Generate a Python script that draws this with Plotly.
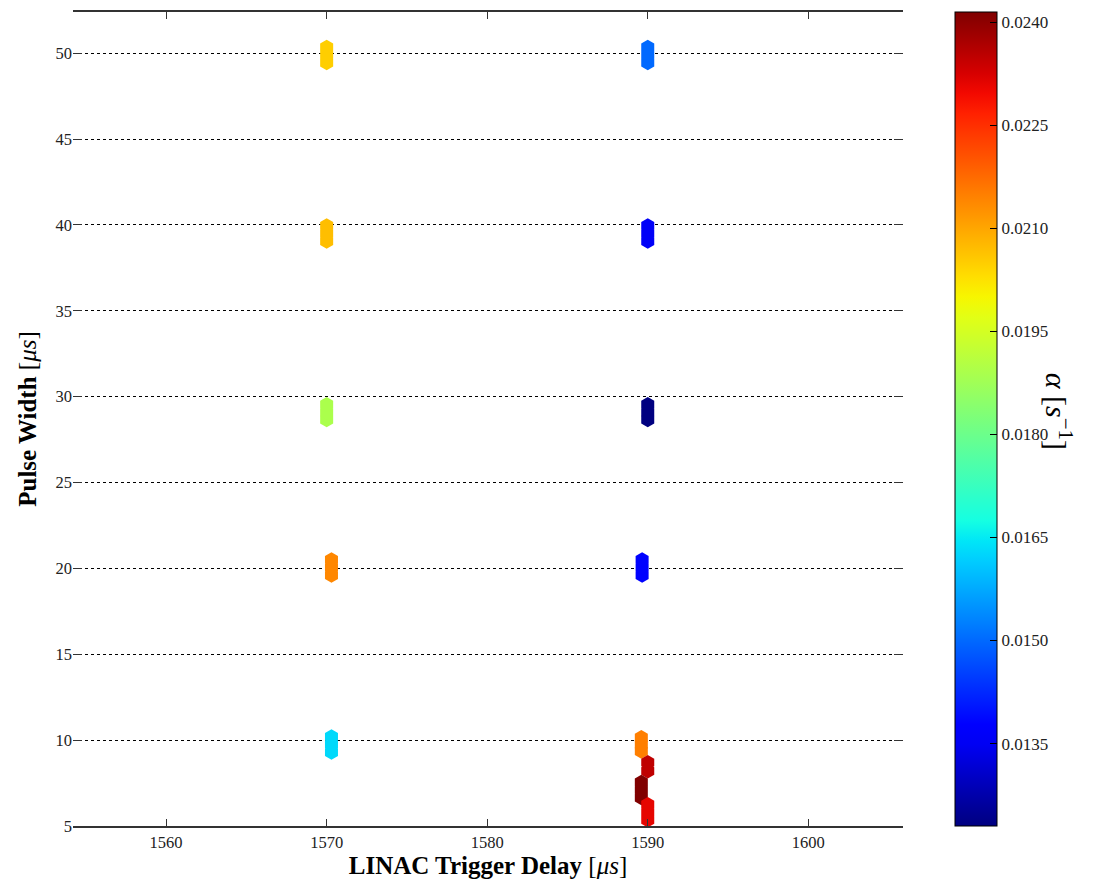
import numpy as np
import plotly.graph_objects as go

delay_us = [
    1570.0, 1570.0, 1570.0,   # ~50 us
    1570.0, 1570.0, 1570.0,   # ~39.5 us
    1570.0, 1570.0, 1570.0,   # ~29 us
    1570.3, 1570.3, 1570.3,   # ~20 us
    1570.3, 1570.3, 1570.3,   # ~10 us
    1590.0, 1590.0, 1590.0,   # ~50 us
    1590.0, 1590.0, 1590.0,   # ~39.5 us
    1590.0, 1590.0, 1590.0,   # ~29 us
    1589.65, 1589.65, 1589.65,  # ~20 us
    1589.6, 1589.6, 1589.6,   # ~10 us
    1590.0, 1590.0,           # ~8.5 us
    1589.6, 1589.6, 1589.6,   # ~7 us
    1590.0, 1590.0, 1590.0,   # ~6 us
]
pulse_width_us = [
    49.45, 49.9, 50.35,
    39.05, 39.5, 39.95,
    28.65, 29.1, 29.55,
    19.6, 20.05, 20.5,
    9.3, 9.75, 10.2,
    49.45, 49.9, 50.35,
    39.05, 39.5, 39.95,
    28.65, 29.1, 29.55,
    19.6, 20.05, 20.5,
    9.35, 9.75, 10.15,
    8.2, 8.7,
    6.65, 7.1, 7.55,
    5.35, 5.8, 6.25,
]
alpha_per_s = [
    0.0205, 0.0205, 0.0205,
    0.0207, 0.0207, 0.0207,
    0.0189, 0.0189, 0.0189,
    0.0214, 0.0214, 0.0214,
    0.0163, 0.0163, 0.0163,
    0.0150, 0.0150, 0.0150,
    0.0136, 0.0136, 0.0136,
    0.0123, 0.0123, 0.0123,
    0.0138, 0.0138, 0.0138,
    0.0215, 0.0215, 0.0215,
    0.0235, 0.0235,
    0.02415, 0.02415, 0.02415,
    0.0231, 0.0231, 0.0231,
]

x_ticks = [1560, 1570, 1580, 1590, 1600]
y_ticks = [5, 10, 15, 20, 25, 30, 35, 40, 45, 50]
cb_ticks = [0.0135, 0.0150, 0.0165, 0.0180, 0.0195, 0.0210, 0.0225, 0.0240]

# ---- matplotlib "jet" colormap ----
seg_r = ([0, 0.35, 0.66, 0.89, 1], [0, 0, 1, 1, 0.5])
seg_g = ([0, 0.125, 0.375, 0.64, 0.91, 1], [0, 0, 1, 1, 0, 0])
seg_b = ([0, 0.11, 0.34, 0.65, 1], [0.5, 1, 1, 0, 0])
ts = np.linspace(0, 1, 41)
jet = []
for t in ts:
    r = np.interp(t, *seg_r)
    g = np.interp(t, *seg_g)
    b = np.interp(t, *seg_b)
    jet.append([float(t), f"rgb({int(round(r*255))},{int(round(g*255))},{int(round(b*255))})"])

FONT = "Liberation Serif"

fig = go.Figure()
fig.add_trace(go.Scatter(
    x=delay_us, y=pulse_width_us, mode="markers",
    marker=dict(
        symbol="hexagon", size=15, color=alpha_per_s,
        colorscale=jet, cmin=min(alpha_per_s), cmax=max(alpha_per_s),
        line=dict(width=0),
        colorbar=dict(
            x=1.0627, xanchor="left", xpad=0, ypad=0,
            y=0.5, yanchor="middle", len=1.0, lenmode="fraction",
            thickness=42, thicknessmode="pixels",
            outlinewidth=1, outlinecolor="black",
            tickvals=cb_ticks, tickformat=".4f",
            ticks="inside", ticklen=7, tickcolor="black",
            tickfont=dict(family=FONT, size=17, color="#222"),
        ),
    ),
    showlegend=False,
))

fig.add_annotation(
    x=1.2133, y=0.51, xref="paper", yref="paper",
    text="<i>α</i> [<i>s</i><sup>−1</sup>]", textangle=90,
    showarrow=False, font=dict(family=FONT, size=30, color="black"),
)

fig.update_layout(
    width=1104, height=885,
    margin=dict(l=73, r=201, t=10, b=59),
    plot_bgcolor="white", paper_bgcolor="white",
    font=dict(family=FONT, color="black"),
)
fig.update_xaxes(
    range=[1554.2, 1605.9], tickvals=x_ticks,
    showgrid=False, zeroline=False,
    showline=True, linecolor="#333", linewidth=2, mirror="allticks",
    ticks="inside", ticklen=7, tickcolor="#333",
    tickfont=dict(family=FONT, size=16.5, color="#222"),
    title=dict(text="<b>LINAC Trigger Delay</b> [<i>μs</i>]",
               font=dict(family=FONT, size=25), standoff=6),
)
fig.update_yaxes(
    range=[5, 52.4], tickvals=y_ticks,
    showgrid=True, gridcolor="black", gridwidth=1.2, griddash="3px,3px",
    zeroline=False, showline=False, mirror="ticks",
    ticks="inside", ticklen=9, tickcolor="#333",
    tickfont=dict(family=FONT, size=16.5, color="#222"),
    title=dict(text="<b>Pulse Width</b> [<i>μs</i>]",
               font=dict(family=FONT, size=25), standoff=11),
)

fig.write_html("out.html")
